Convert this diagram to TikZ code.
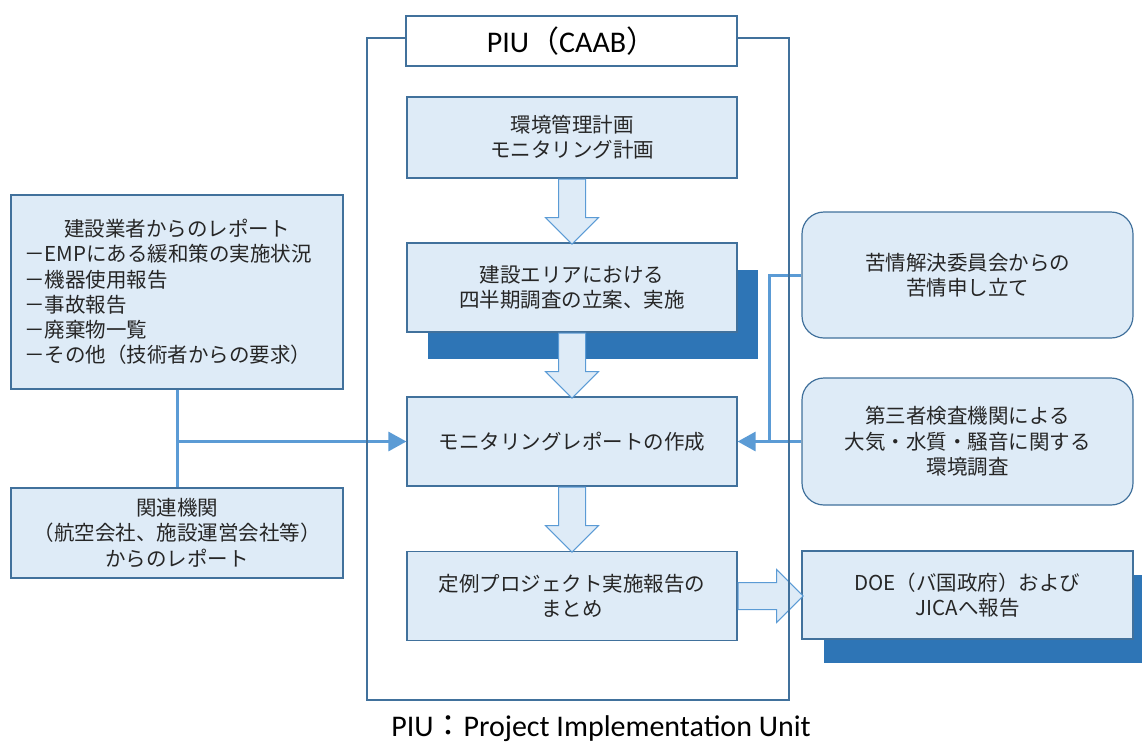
\documentclass[tikz,border=0pt]{standalone}
\usepackage{fontspec}
\setmainfont{Carlito}
\newfontfamily\cjk{Noto Sans CJK JP}
\usetikzlibrary{shapes.arrows,arrows.meta,shadows}
\definecolor{boxfill}{HTML}{DEEBF7}
\definecolor{boxedge}{HTML}{41719C}
\definecolor{shadowblue}{HTML}{2E75B6}
\definecolor{linkblue}{HTML}{5B9BD5}
\tikzset{
  box/.style={draw=boxedge, line width=1.2pt, fill=boxfill, text=black!85, minimum width=330pt, minimum height=89pt, align=center, inner sep=0pt, font=\cjk\fontsize{20.5}{25.3}\selectfont},
  roundbox/.style={box, rounded corners=22pt, minimum width=331pt, minimum height=126pt},
  shadowbox/.style={box, drop shadow={shadow xshift=21pt, shadow yshift=-27pt, fill=shadowblue, opacity=1}},
  blockarrow/.style={single arrow, draw=linkblue, line width=1pt, fill=boxfill, inner xsep=0pt, inner ysep=13pt, single arrow head extend=13pt, minimum height=65pt, minimum width=0pt},
  downarrow/.style={blockarrow, inner xsep=13pt, inner ysep=0pt, shape border rotate=270},
  link/.style={draw=linkblue, line width=3pt},
  linkarrow/.style={link, -{Triangle[length=18pt,width=19pt]}}
}
\begin{document}
\begin{tikzpicture}[x=1pt,y=-1pt]
\useasboundingbox (0,0) rectangle (1142,745);
\node (plan) [box, minimum height=81pt] at (572,137.5) {環境管理計画\\モニタリング計画};
\node (survey) [shadowbox] at (572,287.5) {建設エリアにおける\\四半期調査の立案、実施};
\node (monitor) [box] at (572,441.5) {モニタリングレポートの作成};
\node (summary) [box] at (572,596) {定例プロジェクト実施報告の\\まとめ};
\node (complaint) [roundbox] at (967.5,275) {苦情解決委員会からの\\苦情申し立て};
\node (thirdparty) [roundbox, minimum height=127pt] at (967.5,441.5) {第三者検査機関による\\大気・水質・騒音に関する\\環境調査};
\node (doe) [box, minimum width=331pt, minimum height=88pt, drop shadow={shadow xshift=22pt, shadow yshift=-24pt, fill=shadowblue, opacity=1}] at (967.5,595) {DOE（バ国政府）および\\JICAへ報告};
\node (contractor) [box, minimum width=332pt, minimum height=194pt, text width=306pt, align=left] at (177,292) {\makebox[\linewidth][c]{建設業者からのレポート}\\
  －EMPにある緩和策の実施状況\\
  －機器使用報告\\
  －事故報告\\
  －廃棄物一覧\\
  －その他（技術者からの要求）};
\node (agency) [box, minimum width=332pt, minimum height=90pt] at (177,533) {関連機関\\（航空会社、施設運営会社等）\\からのレポート};
\node (arr1) [downarrow, anchor=tail] at (plan.south) {};
\node (arr2) [downarrow, anchor=tail] at (survey.south) {};
\node (arr3) [downarrow, anchor=tail] at (monitor.south) {};
\node (arr4) [blockarrow, anchor=tail] at (summary.east) {};
\draw [link] (contractor.south) -- (agency.north);
\draw [linkarrow] (contractor.south |- monitor.west) -- (monitor.west);
\draw [linkarrow] (complaint.west) -- ++(-32,0) |- (monitor.east);
\draw [link] (thirdparty.west) -- ++(-32,0);
\draw [draw=boxedge, line width=2.2pt] (367,38) rectangle (789,700);
\node (title) [draw=boxedge, line width=2.2pt, fill=white, minimum width=331pt, minimum height=50pt, font=\fontsize{30}{36}\selectfont] at (571.5,41) {PIU{\cjk （}CAAB{\cjk ）}};
\node (caption) [font=\fontsize{30}{36}\selectfont] at (601,729) {PIU{\cjk ：}Project Implementation Unit};
\end{tikzpicture}
\end{document}
